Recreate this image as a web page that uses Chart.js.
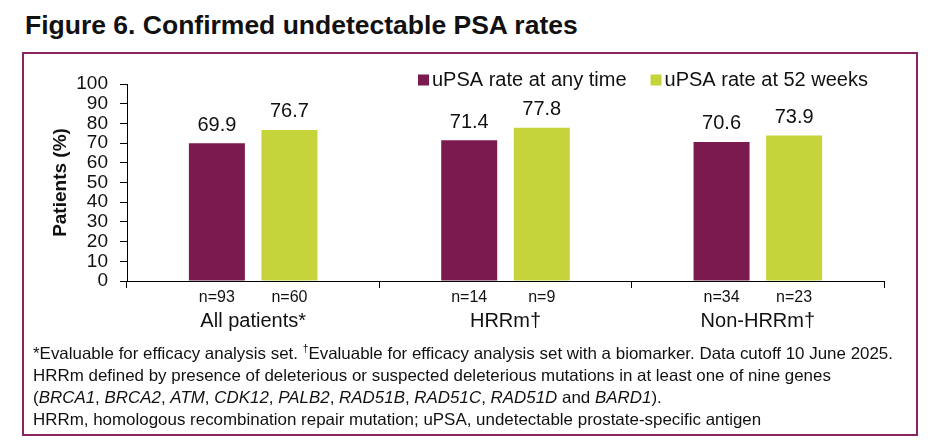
<!DOCTYPE html>
<html>
<head>
<meta charset="utf-8">
<script src="https://cdn.jsdelivr.net/npm/chart.js@4.4.1/dist/chart.umd.min.js"></script>
<style>
  html, body { margin: 0; padding: 0; background: #fff; }
  body { width: 928px; height: 446px; position: relative; overflow: hidden; font-family: "Liberation Sans", Arial, sans-serif; }
  #title { position: absolute; left: 25px; top: 10px; font-weight: bold; font-size: 26.5px; color: #111; white-space: nowrap; }
  #frame { position: absolute; left: 22px; top: 52px; width: 892px; height: 380px; border: 2px solid #8b2262; }
  #wrap { position: absolute; left: 0; top: 0; width: 928px; height: 446px; }
  #notes { position: absolute; left: 33px; top: 338px; font-family: "Liberation Sans", Arial, sans-serif;
           font-size: 16.5px; line-height: 22px; color: #111; white-space: nowrap; transform-origin: 0 0; }
  #notes span.l { display: inline-block; }
  #notes i { font-style: italic; }
</style>
</head>
<body>
<div id="title">Figure 6. Confirmed undetectable PSA rates</div>
<div id="frame"></div>
<div id="wrap"><canvas id="chart" width="928" height="446"></canvas></div>
<div id="notes">
  <div><span class="l" id="line1">*Evaluable for efficacy analysis set. <sup style="font-size:10px">†</sup>Evaluable for efficacy analysis set with a biomarker. Data cutoff 10 June 2025.</span></div>
  <div>HRRm defined by presence of deleterious or suspected deleterious mutations in at least one of nine genes</div>
  <div>(<i>BRCA1</i>, <i>BRCA2</i>, <i>ATM</i>, <i>CDK12</i>, <i>PALB2</i>, <i>RAD51B</i>, <i>RAD51C</i>, <i>RAD51D</i> and <i>BARD1</i>).</div>
  <div>HRRm, homologous recombination repair mutation; uPSA, undetectable prostate-specific antigen</div>
</div>
<script>
// data
const categories = ['All patients*', 'HRRm\u2020', 'Non-HRRm\u2020'];
const anyTime = [69.9, 71.4, 70.6];
const week52 = [76.7, 77.8, 73.9];
const nAnyTime = [93, 14, 34];
const nWeek52 = [60, 9, 23];
const yTicks = [0, 10, 20, 30, 40, 50, 60, 70, 80, 90, 100];

const PURPLE = '#7a1a4e';
const GREEN = '#c6d43c';
const FONT = '"Liberation Sans", Arial, sans-serif';

// footnote is set in a narrow face in the original: squeeze the regular one
const notes = document.getElementById('notes');
const w1 = document.getElementById('line1').getBoundingClientRect().width;
notes.style.transform = 'scaleX(' + (860 / w1) + ')';

// value on top + n= below each bar
const barLabels = {
  id: 'barLabels',
  afterDatasetsDraw(chart) {
    const ctx = chart.ctx;
    const nSets = [nAnyTime, nWeek52];
    const xAxis = chart.scales.x;
    ctx.save();
    ctx.fillStyle = '#111';
    ctx.textAlign = 'center';
    chart.data.datasets.forEach((ds, di) => {
      chart.getDatasetMeta(di).data.forEach((bar, i) => {
        ctx.font = '20px ' + FONT;
        ctx.textBaseline = 'bottom';
        ctx.fillText(ds.data[i].toFixed(1), bar.x, bar.y - 8);
        ctx.font = '16px ' + FONT;
        ctx.textBaseline = 'middle';
        ctx.fillText('n=' + nSets[di][i], bar.x, xAxis.top + 17);
      });
    });
    ctx.restore();
  }
};

// legend in the top right corner
const topLegend = {
  id: 'topLegend',
  afterDraw(chart) {
    const ctx = chart.ctx;
    ctx.save();
    ctx.font = '20px ' + FONT;
    ctx.textBaseline = 'middle';
    ctx.textAlign = 'left';
    let x = 418;
    const y = 80;
    chart.data.datasets.forEach(ds => {
      ctx.fillStyle = ds.backgroundColor;
      ctx.fillRect(x, y - 5.5, 11, 11);
      ctx.fillStyle = '#111';
      ctx.fillText(ds.label, x + 14, y);
      x += 14 + ctx.measureText(ds.label).width + 24;
    });
    ctx.restore();
  }
};

new Chart(document.getElementById('chart'), {
  type: 'bar',
  data: {
    labels: categories,
    datasets: [
      { label: 'uPSA rate at any time', data: anyTime, backgroundColor: PURPLE },
      { label: 'uPSA rate at 52 weeks', data: week52, backgroundColor: GREEN }
    ]
  },
  options: {
    responsive: false,
    animation: false,
    layout: { padding: { left: 0, top: 84, right: 44, bottom: 105 } },
    datasets: { bar: { categoryPercentage: 0.575, barPercentage: 0.772 } },
    plugins: { legend: { display: false }, tooltip: { enabled: false } },
    scales: {
      x: {
        offset: true,
        grid: { offset: true, drawOnChartArea: false, drawTicks: true, tickLength: 7, color: '#000' },
        border: { color: '#000', width: 1 },
        ticks: { color: '#111', font: { family: FONT, size: 20 }, padding: 21, maxRotation: 0 },
        afterFit(scale) { scale.height = 60; }
      },
      y: {
        min: 0,
        max: 100,
        afterBuildTicks(scale) { scale.ticks = yTicks.map(v => ({ value: v })); },
        grid: { drawOnChartArea: false, drawTicks: true, tickLength: 7, color: '#000' },
        border: { color: '#000', width: 1 },
        ticks: { color: '#111', font: { family: FONT, size: 19 }, padding: 12, autoSkip: false },
        title: {
          display: true,
          text: 'Patients (%)',
          color: '#111',
          font: { family: FONT, size: 19, weight: 'bold' },
          padding: { top: 49, bottom: 0 }
        },
        afterFit(scale) { scale.width = 127; }
      }
    }
  },
  plugins: [barLabels, topLegend]
});
</script>
</body>
</html>
